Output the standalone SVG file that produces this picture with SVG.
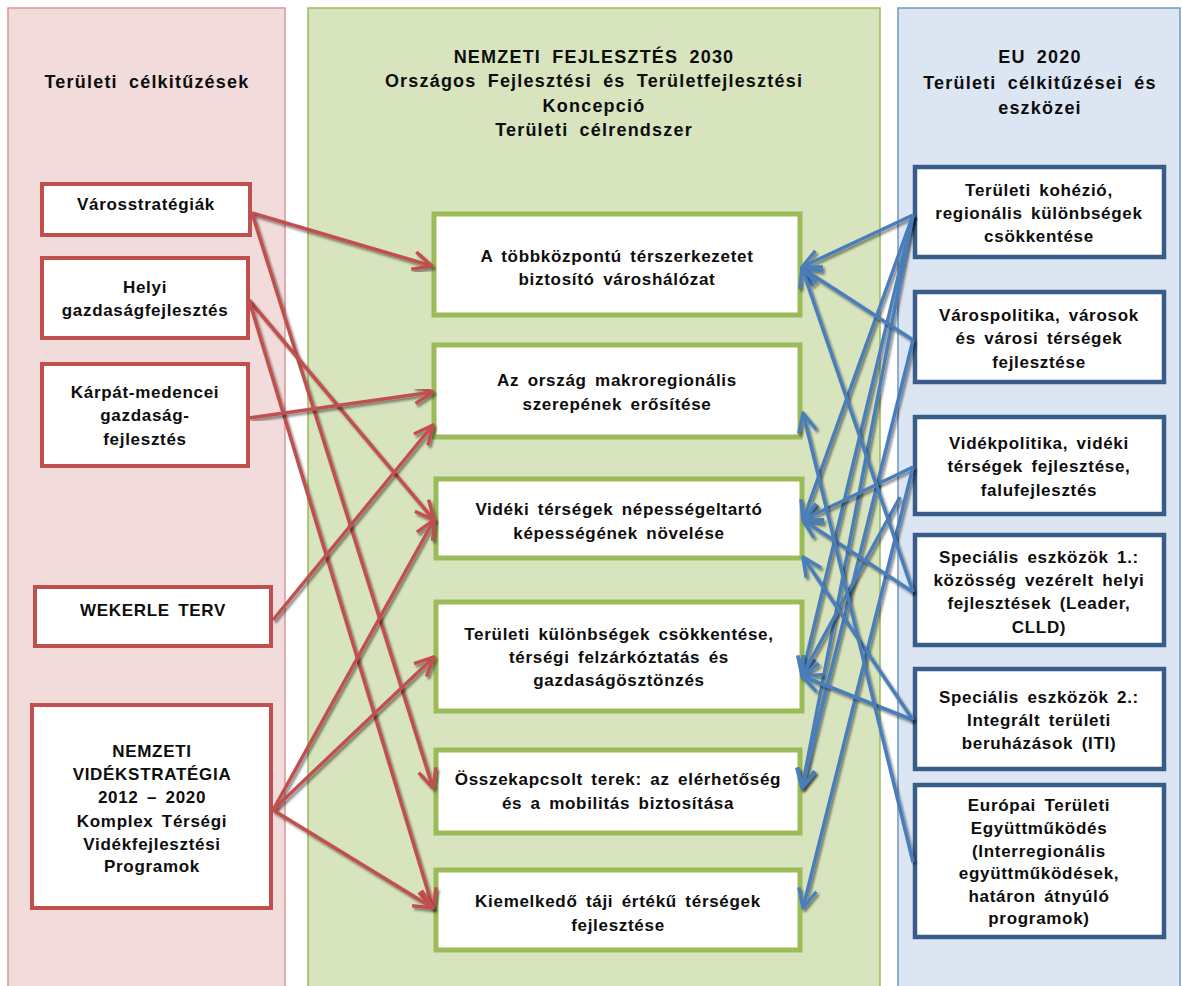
<svg xmlns="http://www.w3.org/2000/svg" width="1182" height="986" viewBox="0 0 1182 986">
<style>
  text { font-family: "Liberation Sans", Arial, sans-serif; font-weight: bold; fill: #0d0d0d; text-anchor: middle; }
  .t { font-size: 17px; letter-spacing: 0.7px; word-spacing: 3px; }
  .h { font-size: 18px; letter-spacing: 1.2px; word-spacing: 5px; }
  .lb { fill: #fff; stroke: #c0504d; stroke-width: 4; }
  .cb { fill: #fff; stroke: #9bbb59; stroke-width: 5; }
  .rb { fill: #fff; stroke: #385d8a; stroke-width: 4.5; }
  .red { fill: none; stroke: #c0504d; stroke-width: 3.5; marker-end: url(#ar); filter: url(#sh); }
  .blue { fill: none; stroke: #4a7ebb; stroke-width: 3.5; marker-end: url(#ab); filter: url(#sh); }
</style>
<defs>
  <filter id="sh" x="-10%" y="-10%" width="120%" height="120%">
    <feDropShadow dx="2" dy="2.5" stdDeviation="1.2" flood-color="#000" flood-opacity="0.45"/>
  </filter>
  <marker id="ar" markerUnits="userSpaceOnUse" viewBox="0 0 22 20" markerWidth="22" markerHeight="20" refX="20" refY="10" orient="auto" overflow="visible">
    <path d="M1,1 L20,10 L1,19" fill="none" stroke="#c0504d" stroke-width="3.5" stroke-linejoin="round"/>
  </marker>
  <marker id="ab" markerUnits="userSpaceOnUse" viewBox="0 0 22 20" markerWidth="22" markerHeight="20" refX="20" refY="10" orient="auto" overflow="visible">
    <path d="M1,1 L20,10 L1,19" fill="none" stroke="#4a7ebb" stroke-width="3.5" stroke-linejoin="round"/>
  </marker>
</defs>
<rect width="1182" height="986" fill="#fff"/>

<g id="panel-left">
  <rect x="8" y="8" width="277" height="990" fill="#f2dcdb" stroke="#d99694" stroke-width="1.5"/>
  <text class="h" x="147" y="88">Területi célkitűzések</text>
</g>
<g id="panel-center">
  <rect x="308" y="8" width="572" height="990" fill="#d7e4bd" stroke="#9bbb59" stroke-width="1.5"/>
  <text class="h" x="594" y="63">NEMZETI FEJLESZTÉS 2030</text>
  <text class="h" x="594" y="87">Országos Fejlesztési és Területfejlesztési</text>
  <text class="h" x="594" y="112">Koncepció</text>
  <text class="h" x="594" y="136">Területi célrendszer</text>
</g>
<g id="panel-right">
  <rect x="898" y="8" width="282" height="990" fill="#dce6f2" stroke="#7096c8" stroke-width="1.5"/>
  <text class="h" x="1040" y="63">EU 2020</text>
  <text class="h" x="1040" y="89">Területi célkitűzései és</text>
  <text class="h" x="1040" y="114">eszközei</text>
</g>

<g id="L1"><rect class="lb" x="42" y="184" width="208" height="51"/>
  <text class="t" x="146" y="210">Városstratégiák</text></g>
<g id="L2"><rect class="lb" x="42" y="258" width="206" height="80"/>
  <text class="t" x="145" y="293">Helyi</text><text class="t" x="145" y="316">gazdaságfejlesztés</text></g>
<g id="L3"><rect class="lb" x="42" y="364" width="206" height="102"/>
  <text class="t" x="145" y="398">Kárpát-medencei</text><text class="t" x="145" y="421">gazdaság-</text><text class="t" x="145" y="445">fejlesztés</text></g>
<g id="L4"><rect class="lb" x="35" y="587" width="236" height="59"/>
  <text class="t" x="153" y="616">WEKERLE TERV</text></g>
<g id="L5"><rect class="lb" x="32" y="705" width="239" height="203"/>
  <text class="t" x="152" y="757">NEMZETI</text><text class="t" x="152" y="780">VIDÉKSTRATÉGIA</text><text class="t" x="152" y="803">2012 – 2020</text><text class="t" x="152" y="827">Komplex Térségi</text><text class="t" x="152" y="850">Vidékfejlesztési</text><text class="t" x="152" y="872">Programok</text></g>

<g id="C1"><rect class="cb" x="434" y="214" width="366" height="101"/>
  <text class="t" x="617" y="262">A többközpontú térszerkezetet</text><text class="t" x="617" y="285">biztosító városhálózat</text></g>
<g id="C2"><rect class="cb" x="434" y="345" width="366" height="92"/>
  <text class="t" x="617" y="386">Az ország makroregionális</text><text class="t" x="617" y="410">szerepének erősítése</text></g>
<g id="C3"><rect class="cb" x="436" y="479" width="366" height="79"/>
  <text class="t" x="619" y="515">Vidéki térségek népességeltartó</text><text class="t" x="619" y="539">képességének növelése</text></g>
<g id="C4"><rect class="cb" x="436" y="602" width="366" height="109"/>
  <text class="t" x="619" y="640">Területi különbségek csökkentése,</text><text class="t" x="619" y="663">térségi felzárkóztatás és</text><text class="t" x="619" y="686">gazdaságösztönzés</text></g>
<g id="C5"><rect class="cb" x="436" y="750" width="364" height="83"/>
  <text class="t" x="618" y="785">Összekapcsolt terek: az elérhetőség</text><text class="t" x="618" y="809">és a mobilitás biztosítása</text></g>
<g id="C6"><rect class="cb" x="436" y="870" width="364" height="80"/>
  <text class="t" x="618" y="907">Kiemelkedő táji értékű térségek</text><text class="t" x="618" y="931">fejlesztése</text></g>

<g id="R1"><rect class="rb" x="915" y="167" width="249" height="90"/>
  <text class="t" x="1039" y="196">Területi kohézió,</text><text class="t" x="1039" y="219">regionális különbségek</text><text class="t" x="1039" y="242">csökkentése</text></g>
<g id="R2"><rect class="rb" x="915" y="292" width="249" height="90"/>
  <text class="t" x="1039" y="321">Várospolitika, városok</text><text class="t" x="1039" y="344">és városi térségek</text><text class="t" x="1039" y="368">fejlesztése</text></g>
<g id="R3"><rect class="rb" x="915" y="417" width="249" height="97"/>
  <text class="t" x="1039" y="449">Vidékpolitika, vidéki</text><text class="t" x="1039" y="472">térségek fejlesztése,</text><text class="t" x="1039" y="496">falufejlesztés</text></g>
<g id="R4"><rect class="rb" x="915" y="535" width="249" height="110"/>
  <text class="t" x="1039" y="563">Speciális eszközök 1.:</text><text class="t" x="1039" y="586">közösség vezérelt helyi</text><text class="t" x="1039" y="609">fejlesztések (Leader,</text><text class="t" x="1039" y="633">CLLD)</text></g>
<g id="R5"><rect class="rb" x="915" y="669" width="249" height="100"/>
  <text class="t" x="1039" y="703">Speciális eszközök 2.:</text><text class="t" x="1039" y="726">Integrált területi</text><text class="t" x="1039" y="749">beruházások (ITI)</text></g>
<g id="R6"><rect class="rb" x="915" y="785" width="249" height="152"/>
  <text class="t" x="1039" y="811">Európai Területi</text><text class="t" x="1039" y="834">Együttműködés</text><text class="t" x="1039" y="857">(Interregionális</text><text class="t" x="1039" y="879">együttműködések,</text><text class="t" x="1039" y="902">határon átnyúló</text><text class="t" x="1039" y="924">programok)</text></g>

<g id="connectors">
  <path class="red" d="M252,213 L432,266"/>
  <path class="red" d="M252,213 L433,788"/>
  <path class="red" d="M249,300 L434,520"/>
  <path class="red" d="M249,300 L433,908"/>
  <path class="red" d="M249,418 L433,392"/>
  <path class="red" d="M273,620 L433,425"/>
  <path class="red" d="M273,810 L434,520"/>
  <path class="red" d="M273,810 L434,657"/>
  <path class="red" d="M273,810 L433,908"/>

  <path class="blue" d="M913,215 L802,267"/>
  <path class="blue" d="M913,215 L803,520"/>
  <path class="blue" d="M913,215 L802,676"/>
  <path class="blue" d="M913,215 L802,788"/>
  <path class="blue" d="M913,340 L802,268"/>
  <path class="blue" d="M913,340 L802,788"/>
  <path class="blue" d="M913,467 L803,520"/>
  <path class="blue" d="M900,497 L802,676"/>
  <path class="blue" d="M913,467 L803,908"/>
  <path class="blue" d="M913,592 L802,268"/>
  <path class="blue" d="M913,592 L803,520"/>
  <path class="blue" d="M913,720 L802,676"/>
  <path class="blue" d="M913,720 L803,557"/>
  <path class="blue" d="M913,862 L803,413"/>
</g>
</svg>
